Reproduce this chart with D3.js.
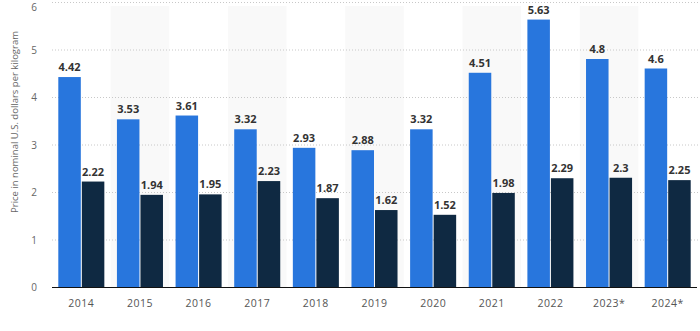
<!DOCTYPE html>
<html><head><meta charset="utf-8">
<script src="https://cdn.jsdelivr.net/npm/d3@7"></script>
<style>body{margin:0;background:#fff;}svg{display:block;font-family:"Open Sans",Roboto,sans-serif;}</style>
</head><body><svg id="c" width="700" height="331"></svg>
<script>
const categories = ["2014","2015","2016","2017","2018","2019","2020","2021","2022","2023*","2024*"];
const seriesA = [4.42,3.53,3.61,3.32,2.93,2.88,3.32,4.51,5.63,4.8,4.6];
const seriesB = [2.22,1.94,1.95,2.23,1.87,1.62,1.52,1.98,2.29,2.3,2.25];
const yTicks = [0,1,2,3,4,5,6];
const yLabel = "Price in nominal U.S. dollars per kilogram";

const svg = d3.select("#c");
const L = 52, R = 697, T = 2, B = 287;
const x = d3.scaleBand().domain(categories).range([L, R]).paddingInner(0).paddingOuter(0);
const inner = d3.scaleBand().domain(["a","b"]).range([6.3, x.bandwidth()-6.3]).paddingInner(0.043);
const y = d3.scaleLinear().domain([0,6]).range([B, T]);

// alternating shading
svg.append("g").selectAll("rect").data(categories.filter((d,i)=>i%2===1)).join("rect")
  .attr("x", d=>x(d)).attr("width", x.bandwidth())
  .attr("y", y(6)+4).attr("height", B-(y(6)+4)).attr("fill","#f9f9f9");

// grid
svg.append("g").selectAll("line").data(yTicks.filter(d=>d>0)).join("line")
  .attr("x1", L).attr("x2", 700).attr("y1", d=>y(d)+0.5).attr("y2", d=>y(d)+0.5)
  .attr("stroke","#c8c8c8").attr("stroke-dasharray","1,2");

// y tick labels
svg.append("g").selectAll("text").data(yTicks).join("text")
  .attr("x", 37).attr("y", d=>Math.max(y(d)+4, 11)).attr("text-anchor","end")
  .attr("font-size",10).attr("fill","#666").text(d=>d);

// y label
svg.append("text").attr("transform","translate(18,122) rotate(-90)")
  .attr("text-anchor","middle").attr("font-size",9.5).attr("fill","#666").text(yLabel);

const g = svg.append("g");
const data = categories.map((c,i)=>({c, a:seriesA[i], b:seriesB[i]}));
const colors = {a:"#2876dd", b:"#0f2942"};
["a","b"].forEach(k=>{
  g.selectAll("rect."+k).data(data).join("rect").attr("class",k)
    .attr("x", d=>x(d.c)+inner(k)).attr("width", inner.bandwidth())
    .attr("y", d=>y(d[k])).attr("height", d=>B-y(d[k])).attr("fill", colors[k]);
  g.selectAll("text."+k).data(data).join("text").attr("class",k)
    .attr("x", d=>x(d.c)+inner(k)+inner.bandwidth()/2).attr("y", d=>y(d[k])-6)
    .attr("text-anchor","middle").attr("font-size",11).attr("font-weight","bold")
    .attr("fill","#333").text(d=>d[k]);
});

// x axis
svg.append("line").attr("x1",L).attr("x2",R).attr("y1",B+0.5).attr("y2",B+0.5).attr("stroke","#111");
svg.append("g").selectAll("text").data(categories).join("text")
  .attr("x", d=>x(d)+x.bandwidth()/2).attr("y", 307).attr("text-anchor","middle")
  .attr("font-size",10.5).attr("fill","#555").attr("letter-spacing","0.5").text(d=>d);
</script></body></html>
